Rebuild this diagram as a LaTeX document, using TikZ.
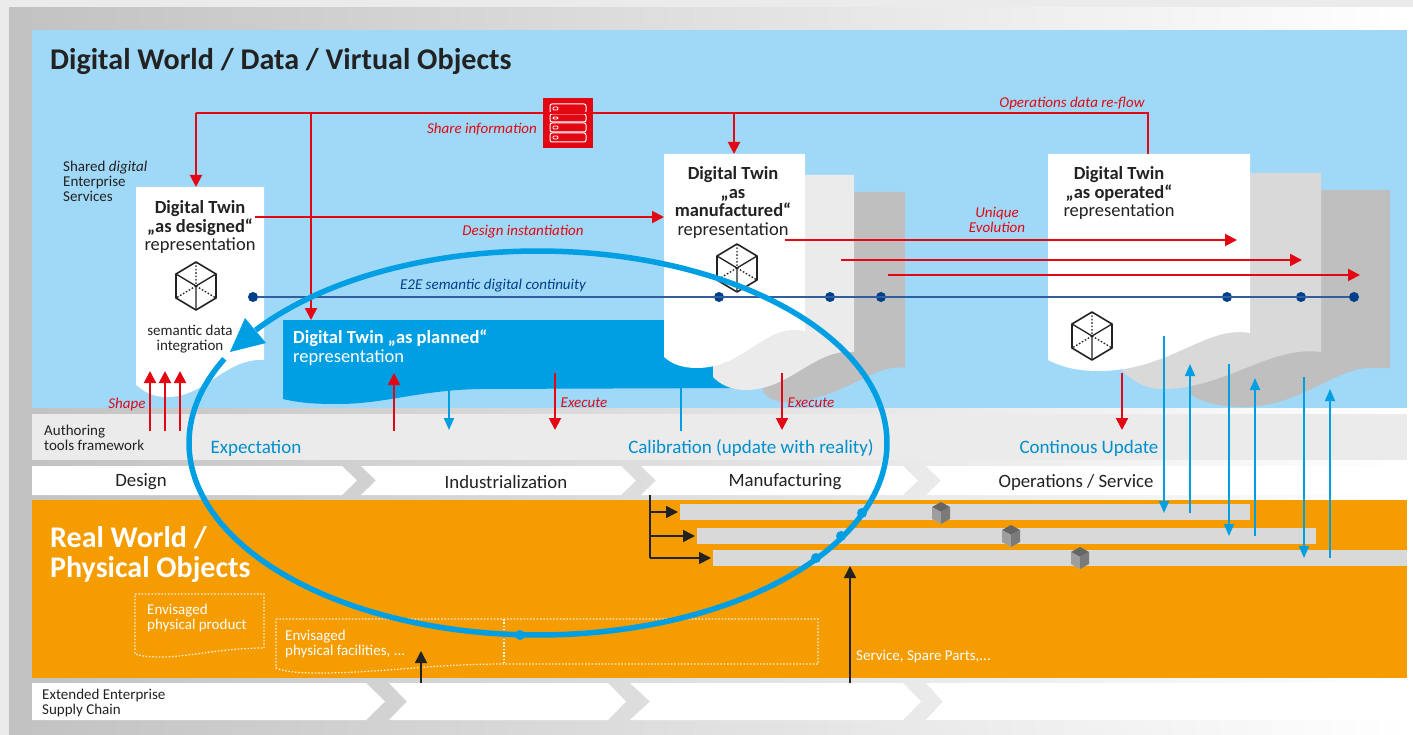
\documentclass[tikz,border=0pt]{standalone}
\usepackage{fontspec}
\setmainfont{Carlito}
\usetikzlibrary{arrows.meta}
\definecolor{skyb}{HTML}{A0D9F7}
\definecolor{dtblue}{HTML}{009FE3}
\definecolor{dtred}{HTML}{E30613}
\definecolor{navyl}{HTML}{2F5F9E}
\definecolor{navyd}{HTML}{003F8A}
\definecolor{orangeb}{HTML}{F59C00}
\definecolor{bandg}{HTML}{EBEBEB}
\definecolor{txt}{HTML}{222222}
\tikzset{
  redarrow/.style={draw=dtred,line width=2pt,-{Triangle[width=12pt,length=12pt]}},
  redline/.style={draw=dtred,line width=2pt},
  bluearrow/.style={draw=dtblue,line width=1.5pt,-{Triangle[width=10pt,length=12pt]}},
  blueline/.style={draw=dtblue,line width=1.5pt},
  blackarrow/.style={draw=txt,line width=1.6pt,-{Triangle[width=12pt,length=12pt]}},
  redtxt/.style={text=dtred,font=\fontsize{15}{15}\selectfont\itshape,inner sep=0pt},
  twin/.style={text=txt,align=center,inner sep=0pt,font=\fontsize{18.5}{18.6}\selectfont},
  smalltxt/.style={text=txt,align=left,inner sep=0pt,font=\fontsize{15}{15}\selectfont},
  whitesmall/.style={text=white,align=left,inner sep=0pt,font=\fontsize{15}{15}\selectfont},
  bluetxt/.style={text=dtblue!90!black,inner sep=0pt,font=\fontsize{19}{20}\selectfont},
  steptxt/.style={text=txt,inner sep=0pt,font=\fontsize{18.8}{19}\selectfont},
  dotbox/.style={draw=white!90!orangeb,line width=1.2pt,dash pattern=on 1.5pt off 1.8pt},
  dot/.style={circle,fill=navyd,minimum size=10pt,inner sep=0pt},
  bdot/.style={circle,fill=dtblue,minimum size=10pt,inner sep=0pt},
  chev/.style={fill=white,draw=none},
  bar/.style={fill=black!15,draw=none},
  cubeicon/.pic={
    \draw[txt,line width=1.6pt,line join=round] (0,-24)--(20,-12)--(20,12)--(0,24)--(-20,12)--(-20,-12)--cycle;
    \draw[txt,line width=1.3pt] (-20,-12)--(0,0)--(20,-12) (0,0)--(0,24);
    \draw[txt,line width=1.3pt,dash pattern=on 1.6pt off 1.8pt] (0,-24)--(0,0) (0,0)--(-20,12) (0,0)--(20,12);
  },
  blockicon/.pic={
    \fill[black!60] (0,-11)--(9,-6)--(0,-1)--(-9,-6)--cycle;
    \fill[black!38] (-9,-6)--(0,-1)--(0,11)--(-9,6)--cycle;
    \fill[black!52] (9,-6)--(0,-1)--(0,11)--(9,6)--cycle;
  },
}
\begin{document}
\begin{tikzpicture}[x=1pt,y=-1pt]
\useasboundingbox (0,0) rectangle (1413,735);
% backdrop
\fill[black!8] (0,0) rectangle (1413,735);
\shade[left color=black!24,middle color=black!14,right color=white] (9,8) rectangle (1413,735);
% blue area
\fill[skyb] (32,30) rectangle (1407,408);
\fill[bandg] (32,414) rectangle (1407,460);
\fill[orangeb] (32,500) rectangle (1407,678);
% process chevrons
\path[chev] (32,466)--(342,466)--(357,480.5)--(342,495)--(32,495)--cycle;
\path[chev] (361,466)--(621,466)--(636,480.5)--(621,495)--(361,495)--(376,480.5)--cycle;
\path[chev] (641,466)--(903,466)--(918,480.5)--(903,495)--(641,495)--(656,480.5)--cycle;
\path[chev] (926,466)--(1407,466)--(1407,495)--(926,495)--(941,480.5)--cycle;
\path[chev] (32,683)--(366,683)--(385,701.5)--(366,720)--(32,720)--cycle;
\path[chev] (389,683)--(608,683)--(626,701.5)--(608,720)--(389,720)--(407,701.5)--cycle;
\path[chev] (630,683)--(903,683)--(921,701.5)--(903,720)--(630,720)--(650,701.5)--cycle;
\path[chev] (926,683)--(1407,683)--(1407,720)--(926,720)--(943,701.5)--cycle;
% twin sheets: planned
\fill[dtblue] (283,320)--(745,320)--(745,388)--(480,389) .. controls (420,390) and (385,404) .. (338,404) .. controls (315,404) and (300,403) .. (283,399)--cycle;
% designed
\fill[white] (136,187)--(264,187)--(264,360) .. controls (225,358) and (205,397) .. (168,397) .. controls (152,397) and (145,392) .. (136,385)--cycle;
% manufactured stack
\fill[black!25] (853,192)--(905,192)--(905,368) .. controls (875,362) and (840,402) .. (785,402) .. controls (775,402) and (768,398) .. (763,392)--(763,300)--(853,300)--cycle;
\fill[bandg] (805,175)--(854,175)--(854,352) .. controls (815,348) and (790,390) .. (746,390) .. controls (730,390) and (720,384) .. (713,377)--(713,300)--(805,300)--cycle;
\fill[white] (664,154)--(805,154)--(805,331) .. controls (765,322) and (745,368) .. (697,368) .. controls (682,368) and (672,364) .. (664,357)--cycle;
% operated stack
\fill[black!25] (1321,190)--(1390,190)--(1390,368)--(1370,368) .. controls (1335,368) and (1300,407) .. (1243,407) .. controls (1220,407) and (1200,402) .. (1189,393)--(1189,300)--(1321,300)--cycle;
\fill[black!15] (1250,173)--(1321,173)--(1321,352) .. controls (1270,345) and (1225,389) .. (1162,389) .. controls (1145,389) and (1130,380) .. (1120,368)--(1120,300)--(1250,300)--cycle;
\fill[white] (1048,154)--(1250,154)--(1250,333) .. controls (1205,325) and (1170,371) .. (1098,371) .. controls (1075,371) and (1060,366) .. (1048,360)--cycle;
% production bars
\fill[bar] (680,504) rectangle (1250,520);
\fill[bar] (697,528) rectangle (1316,544);
\fill[bar] (713,550) rectangle (1407,566);
\pic at (941,513) {blockicon};
\pic at (1011,536) {blockicon};
\pic at (1080,558) {blockicon};
% titles
\node[anchor=west,inner sep=0pt,text=txt,font=\fontsize{30.1}{32}\selectfont\bfseries] (titleD) at (50,61) {Digital World / Data / Virtual Objects};
\node[anchor=north west,align=left,inner sep=0pt,text=white,font=\fontsize{30}{30}\selectfont\bfseries] (titleR) at (50,526) {Real World /\\Physical Objects};
% labels
\node[smalltxt,anchor=north west] (shared) at (63,161) {Shared \textit{digital}\\Enterprise\\Services};
\node[smalltxt,anchor=north west] (authoring) at (44,425) {Authoring\\tools framework};
\node[twin,anchor=north] (tDes) at (200,200.5) {\textbf{Digital Twin}\\\textbf{„as designed“}\\representation};
\node[twin,anchor=north] (tMan) at (733,166.5) {\textbf{Digital Twin}\\\textbf{„as}\\\textbf{manufactured“}\\representation};
\node[twin,anchor=north] (tOpe) at (1119,166.5) {\textbf{Digital Twin}\\\textbf{„as operated“}\\representation};
\node[twin,anchor=north west,align=left,text=white] (tPla) at (293,330) {\textbf{Digital Twin „as planned“}\\representation};
\node[smalltxt,align=center,anchor=north] (sem) at (190,325) {semantic data\\integration};
\node[redtxt,anchor=center] (lShare) at (482,129) {Share information};
\node[redtxt,anchor=center] (lReflow) at (1072,104) {Operations data re-flow};
\node[redtxt,anchor=center] (lInst) at (523,232) {Design instantiation};
\node[redtxt,anchor=center,align=center] (lUniq) at (997,219.5) {Unique\\Evolution};
\node[redtxt,anchor=center] (lShape) at (127,404) {Shape};
\node[redtxt,anchor=center] (lEx1) at (584,403) {Execute};
\node[redtxt,anchor=center] (lEx2) at (811,403) {Execute};
\node[inner sep=0pt,text=navyd,font=\fontsize{15}{15}\selectfont\itshape] (lE2E) at (493,286) {E2E semantic digital continuity};
\node[bluetxt] (lExp) at (256,448) {Expectation};
\node[bluetxt] (lCal) at (751,448) {Calibration (update with reality)};
\node[bluetxt] (lCon) at (1089,448) {Continous Update};
\node[steptxt] (sDes) at (141,482) {Design};
\node[steptxt] (sInd) at (506,482) {Industrialization};
\node[steptxt] (sMan) at (785,482) {Manufacturing};
\node[steptxt] (sOpe) at (1076,482) {Operations / Service};
\node[smalltxt,anchor=north west] (lSupply) at (42,689) {Extended Enterprise\\Supply Chain};
\node[whitesmall,anchor=north west] (lProd) at (147,604) {Envisaged\\physical product};
\node[whitesmall,anchor=north west] (lFac) at (285,630) {Envisaged\\physical facilities, ...};
\node[whitesmall,anchor=west] (lServ) at (856,657) {Service, Spare Parts,...};
% dotted outlines
\draw[dotbox] (135,594)--(264,594)--(264,648) .. controls (220,648) and (190,657) .. (160,657) .. controls (150,657) and (140,656) .. (135,654)--cycle;
\draw[dotbox] (276,619)--(818,619)--(818,664)--(504,664) .. controls (430,664) and (380,673) .. (320,673) .. controls (300,673) and (285,672) .. (276,668)--cycle;
\draw[dotbox] (504,619)--(504,664);
% icons
\pic at (196,286) {cubeicon};
\pic at (737,268) {cubeicon};
\pic at (1092,336) {cubeicon};
% server
\node[fill=dtred,minimum size=50pt,inner sep=0pt] (server) at (568,123) {};
\foreach \ya/\yb in {104/113,114/122,123/132,133/142}{
  \draw[white,line width=1pt,rounded corners=2pt] (550,\ya) rectangle (586,\yb);
  \draw[white,line width=.8pt,rounded corners=1pt] (553,\ya+3) rectangle (558,\yb-3);
}
% red connectors
\coordinate (busL) at (196,113);
\coordinate (busP) at (311,113);
\coordinate (busM) at (734,113);
\coordinate (busR) at (1148,113);
\coordinate (inDes) at (196,187);
\coordinate (inPla) at (311,320);
\coordinate (inMan) at (734,154);
\coordinate (inOpe) at (1148,154);
\draw[redline] (inOpe)--(busR)--(busL);
\draw[redarrow] (busL)--(inDes);
\draw[redarrow] (busP)--(inPla);
\draw[redarrow] (busM)--(inMan);
\coordinate (d1) at (255,217); \coordinate (d2) at (664,217);
\draw[redarrow] (d1)--(d2);
\coordinate (u1a) at (785,240); \coordinate (u1b) at (1237,240);
\coordinate (u2a) at (841,260); \coordinate (u2b) at (1302,260);
\coordinate (u3a) at (888,275); \coordinate (u3b) at (1360,275);
\draw[redarrow] (u1a)--(u1b);
\draw[redarrow] (u2a)--(u2b);
\draw[redarrow] (u3a)--(u3b);
\foreach \x in {150,165,180}{ \draw[redarrow] (\x,431)--(\x,371); }
\coordinate (r1a) at (394,431); \coordinate (r1b) at (394,373);
\coordinate (r2a) at (555,373); \coordinate (r2b) at (555,430);
\coordinate (r3a) at (782,373); \coordinate (r3b) at (782,430);
\coordinate (r4a) at (1122,373); \coordinate (r4b) at (1122,430);
\draw[redarrow] (r1a)--(r1b);
\draw[redarrow] (r2a)--(r2b);
\draw[redarrow] (r3a)--(r3b);
\draw[redarrow] (r4a)--(r4b);
% continuity line
\node[dot] (c0) at (253,297) {};
\node[dot] (c1) at (719,297) {};
\node[dot] (c2) at (830,297) {};
\node[dot] (c3) at (881,297) {};
\node[dot] (c4) at (1227,297) {};
\node[dot] (c5) at (1301,297) {};
\node[dot] (c6) at (1354,297) {};
\draw[navyl,line width=2pt] (c0)--(c6);
% thin blue connectors
\coordinate (b0a) at (449,390); \coordinate (b0b) at (449,430);
\draw[bluearrow] (b0a)--(b0b);
\coordinate (b1a) at (681,388); \coordinate (b1b) at (681,431);
\draw[blueline] (b1a)--(b1b);
\draw[bluearrow] (1164,336)--(1164,513);
\draw[bluearrow] (1190,513)--(1190,364);
\draw[bluearrow] (1229,364)--(1229,536);
\draw[bluearrow] (1255,536)--(1255,378);
\draw[bluearrow] (1304,377)--(1304,558);
\draw[bluearrow] (1330,558)--(1330,389);
% black connectors
\coordinate (blT) at (650,495); \coordinate (blB) at (650,558);
\coordinate (bl1) at (650,512); \coordinate (bl2) at (650,536);
\coordinate (bl1e) at (678,512); \coordinate (bl2e) at (695,536); \coordinate (bl3e) at (711,558);
\draw[txt,line width=1.6pt] (blT)--(blB);
\draw[blackarrow] (bl1)--(bl1e);
\draw[blackarrow] (bl2)--(bl2e);
\draw[blackarrow] (blB)--(bl3e);
\coordinate (k1a) at (850,683); \coordinate (k1b) at (850,566);
\coordinate (k2a) at (421,683); \coordinate (k2b) at (421,651);
\draw[blackarrow] (k1a)--(k1b);
\draw[blackarrow] (k2a)--(k2b);
% big ellipse loop
\draw[dtblue,line width=5.5pt] plot[domain=-144:206,samples=240,smooth] ({538+349*cos(\x)},{443+192*sin(\x)});
\fill[dtblue] (230,352)--(245,318)--(266,343)--cycle;
\node[bdot] (e1) at (862,513) {};
\node[bdot] (e2) at (841,536) {};
\node[bdot] (e3) at (816,558) {};
\node[bdot] (e4) at (520,635) {};
\end{tikzpicture}
\end{document}
